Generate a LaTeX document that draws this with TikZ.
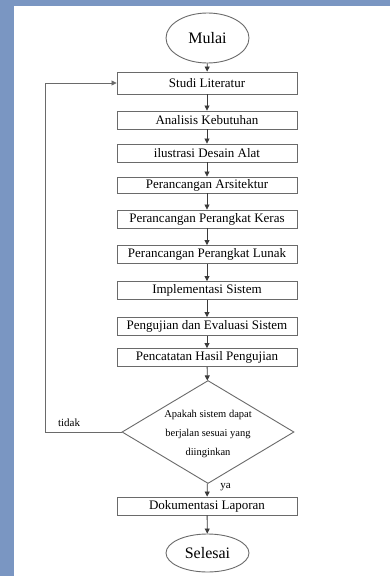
\documentclass[tikz,border=0pt]{standalone}
\usepackage{fontspec}
\setmainfont{Liberation Serif}
\usetikzlibrary{shapes.geometric,arrows.meta}
\definecolor{frameblue}{HTML}{7A96C2}
\definecolor{edgegray}{HTML}{6A6A6A}
\definecolor{linegray}{HTML}{3A3A3A}
\begin{document}
\begin{tikzpicture}[x=1pt,y=-1pt,
  procbox/.style={draw=edgegray,line width=0.9pt,minimum width=180pt,minimum height=18pt,inner sep=0pt,font=\fontsize{13}{15}\selectfont},
  term/.style={draw=edgegray,line width=0.9pt,ellipse,minimum width=83pt,inner sep=0pt,font=\fontsize{16}{18}\selectfont},
  decis/.style={draw=edgegray,line width=0.9pt,diamond,minimum width=172pt,minimum height=103pt,inner sep=0pt},
  dectext/.style={align=center,inner sep=0pt,font=\fontsize{10.5}{19}\selectfont},
  flow/.style={draw=linegray,line width=0.8pt,-{Triangle[length=5pt,width=5pt]}},
  lbl/.style={font=\fontsize{11}{13}\selectfont,inner sep=0pt}]
\useasboundingbox (0,0) rectangle (390,576);
\fill[frameblue] (0,0) rectangle (390,576);
\fill[white] (14,6) rectangle (390,576);
\node[term,minimum height=50pt] (mulai) at (207.5,38) {Mulai};
\node[procbox,minimum height=22pt] (s1) at (207,83) {Studi Literatur};
\node[procbox] (s2) at (207,120) {Analisis Kebutuhan};
\node[procbox] (s3) at (207,153) {ilustrasi Desain Alat};
\node[procbox,minimum height=16pt] (s4) at (207,185) {Perancangan Arsitektur};
\node[procbox] (s5) at (207,219) {Perancangan Perangkat Keras};
\node[procbox] (s6) at (207,254.5) {Perancangan Perangkat Lunak};
\node[procbox] (s7) at (207,290.5) {Implementasi Sistem};
\node[procbox] (s8) at (207,326.5) {Pengujian dan Evaluasi Sistem};
\node[procbox] (s9) at (207,357.5) {Pencatatan Hasil Pengujian};
\node[decis] (dec) at (208,432) {};
\node[dectext] (dectxt) at (208,434) {Apakah sistem dapat\\berjalan sesuai yang\\diinginkan};
\node[procbox] (s10) at (207,506) {Dokumentasi Laporan};
\node[term,minimum height=38pt] (selesai) at (207.5,553) {Selesai};
\coordinate (lp) at (45,432);
\coordinate (lq) at (45,83);
\draw[flow] (mulai) -- (s1);
\draw[flow] (s1) -- (s2);
\draw[flow] (s2) -- (s3);
\draw[flow] (s3) -- (s4);
\draw[flow] (s4) -- (s5);
\draw[flow] (s5) -- (s6);
\draw[flow] (s6) -- (s7);
\draw[flow] (s7) -- (s8);
\draw[flow] (s8) -- (s9);
\draw[flow] (s9) -- (dec);
\draw[flow] (dec) -- (s10);
\draw[flow] (s10) -- (selesai);
\draw[flow,draw=edgegray] (dec.west) -- (lp) -- (lq) -- (s1.west);
\node[lbl] (tidak) at (69,423) {tidak};
\node[lbl] (ya) at (225.5,487) {ya};
\end{tikzpicture}
\end{document}
